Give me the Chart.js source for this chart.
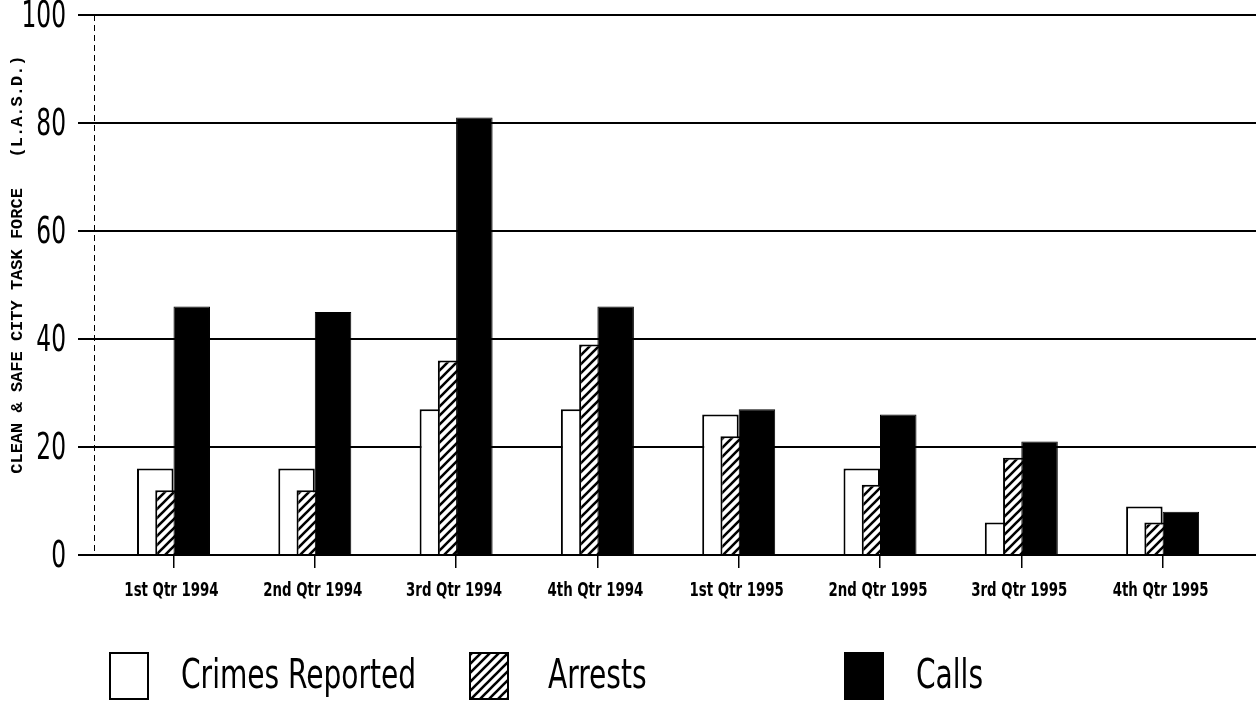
<!DOCTYPE html>
<html>
<head>
<meta charset="utf-8">
<script src="https://cdn.jsdelivr.net/npm/chart.js@4"></script>
<style>
  html, body { margin: 0; padding: 0; background: #fff; overflow: hidden; }
  #wrap { width: 1256px; height: 703px; position: relative; }
</style>
</head>
<body>
<div id="wrap"><canvas id="chart"></canvas></div>
<script>
const QUARTERS = [
  "1st Qtr 1994",
  "2nd Qtr 1994",
  "3rd Qtr 1994",
  "4th Qtr 1994",
  "1st Qtr 1995",
  "2nd Qtr 1995",
  "3rd Qtr 1995",
  "4th Qtr 1995",
];
const crimes_reported = [16, 16, 27, 27, 26, 16, 6, 9];
const arrests = [12, 12, 36, 39, 22, 13, 18, 6];
const calls = [46, 45, 81, 46, 27, 26, 21, 8];
const SERIES_NAMES = ["Crimes Reported", "Arrests", "Calls"];
const Y_TITLE = "    CLEAN & SAFE CITY TASK FORCE   (L.A.S.D.)";

const NARROW = "'DejaVu Sans Condensed', 'Liberation Sans Narrow', sans-serif";

// diagonal hatch for the arrests bars
const makeHatch = () => {
  const c = document.createElement("canvas");
  c.width = 9;
  c.height = 9;
  const g = c.getContext("2d");
  g.fillStyle = "#fff";
  g.fillRect(0, 0, 9, 9);
  g.strokeStyle = "#000";
  g.lineWidth = 2.6;
  g.beginPath();
  g.moveTo(-1, 10);
  g.lineTo(10, -1);
  g.moveTo(-3, 3);
  g.lineTo(3, -3);
  g.moveTo(6, 12);
  g.lineTo(12, 6);
  g.stroke();
  return g.createPattern(c, "repeat");
};
const hatch = makeHatch();

// bars to the right sit on top of the ones to their left
const drawInOrder = {
  id: "drawInOrder",
  beforeDatasetsDraw(chart) {
    chart.getSortedVisibleDatasetMetas().forEach((meta) => {
      meta.controller.draw();
    });
    return false;
  },
};

// squeezed text, like the narrow typeface of the original
const squeezedText = (ctx, text, x, y, sx) => {
  ctx.save();
  ctx.translate(x, y);
  ctx.scale(sx, 1);
  ctx.fillText(text, 0, 0);
  ctx.restore();
};

const axisText = {
  id: "axisText",
  afterDraw(chart) {
    const { ctx, chartArea } = chart;
    const x = chart.scales.x;
    const y = chart.scales.y;
    ctx.save();

    // dashed y axis line
    ctx.strokeStyle = "#000";
    ctx.lineWidth = 1;
    ctx.setLineDash([6, 4]);
    ctx.beginPath();
    ctx.moveTo(chartArea.left + 0.5, chartArea.top);
    ctx.lineTo(chartArea.left + 0.5, chartArea.bottom);
    ctx.stroke();
    ctx.setLineDash([]);

    ctx.fillStyle = "#000";
    ctx.font = "37px " + NARROW;
    ctx.textAlign = "right";
    ctx.textBaseline = "middle";
    y.ticks.forEach((t) => {
      squeezedText(ctx, String(t.value), y.right - 28, y.getPixelForValue(t.value) + 2, 0.7);
    });

    ctx.font = "bold 19px " + NARROW;
    ctx.textAlign = "center";
    x.ticks.forEach((t) => {
      squeezedText(ctx, QUARTERS[t.value], x.getPixelForValue(t.value) - 2, chartArea.bottom + 36, 0.78);
    });
    ctx.restore();
  },
};

const legendX = [110, 470, 845];
const legendGap = [71, 78, 71];
const bottomLegend = {
  id: "bottomLegend",
  afterDraw(chart) {
    const ctx = chart.ctx;
    ctx.save();
    chart.data.datasets.forEach((ds, i) => {
      const x = legendX[i];
      ctx.fillStyle = ds.backgroundColor;
      ctx.fillRect(x, 653, 38, 46);
      ctx.strokeStyle = "#000";
      ctx.lineWidth = 2;
      ctx.strokeRect(x, 653, 38, 46);
      ctx.fillStyle = "#000";
      ctx.font = "40px " + NARROW;
      ctx.textBaseline = "middle";
      ctx.textAlign = "left";
      squeezedText(ctx, ds.label, x + legendGap[i], 678, 0.78);
    });
    ctx.restore();
  },
};

const datasets = [
  {
    label: SERIES_NAMES[0],
    data: crimes_reported,
    backgroundColor: "#fff",
    borderColor: "#000",
    borderWidth: 2,
  },
  {
    label: SERIES_NAMES[1],
    data: arrests,
    backgroundColor: hatch,
    borderColor: "#000",
    borderWidth: 2,
  },
  {
    label: SERIES_NAMES[2],
    data: calls,
    backgroundColor: "#000",
    borderColor: "#000",
    borderWidth: 1,
  },
];

new Chart(document.getElementById("chart"), {
  type: "bar",
  data: {
    labels: QUARTERS.map((q, i) => i),
    datasets: datasets,
  },
  plugins: [drawInOrder, axisText, bottomLegend],
  options: {
    responsive: true,
    maintainAspectRatio: false,
    animation: false,
    categoryPercentage: 0.3875,
    barPercentage: 2,
    layout: {
      padding: { top: 15, right: 0, bottom: 105, left: 0 },
    },
    plugins: {
      legend: { display: false },
      tooltip: { enabled: false },
    },
    scales: {
      x: {
        type: "linear",
        offset: false,
        min: -0.5626,
        max: 7.661,
        afterBuildTicks: (scale) => {
          scale.ticks = QUARTERS.map((q, i) => ({ value: i }));
        },
        afterFit: (scale) => {
          scale.height = 43;
        },
        grid: {
          display: true,
          offset: false,
          drawOnChartArea: false,
          drawTicks: true,
          tickLength: 13,
          color: "#000",
          lineWidth: 1.5,
        },
        border: { display: true, color: "#000", width: 2 },
        ticks: { display: false },
      },
      y: {
        min: 0,
        max: 100,
        afterFit: (scale) => {
          scale.width = 94;
        },
        grid: {
          color: "#000",
          lineWidth: 2,
          tickLength: 16,
          drawTicks: true,
        },
        border: { display: false },
        ticks: { display: false, stepSize: 20 },
        title: {
          display: true,
          text: Y_TITLE,
          color: "#000",
          padding: { top: 8, bottom: 0 },
          font: { family: "'Liberation Mono', 'DejaVu Sans Mono', monospace", size: 17, weight: "bold" },
        },
      },
    },
  },
});
</script>
</body>
</html>
